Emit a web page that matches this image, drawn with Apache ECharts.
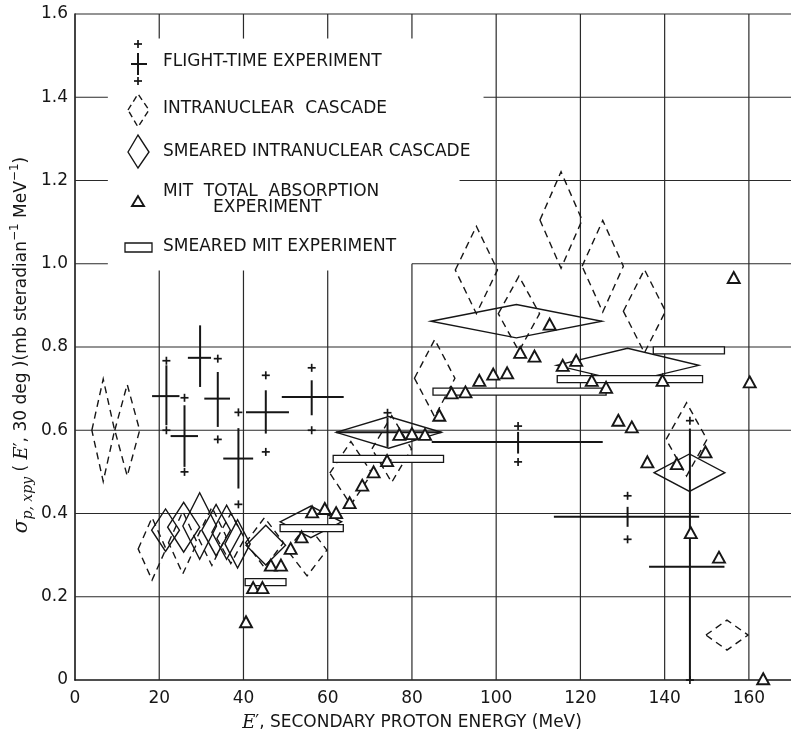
<!DOCTYPE html>
<html>
<head>
<meta charset="utf-8">
<title>Secondary proton spectrum</title>
<style>
  html, body { margin: 0; padding: 0; background: #fff; }
  #chart { width: 791px; height: 733px; }
</style>
<script src="https://cdn.jsdelivr.net/npm/echarts@6/dist/echarts.min.js"></script>
</head>
<body>
<div id="chart"></div>
<script>
// x ticks (MeV) and y ticks
var xTicks = [0, 20, 40, 60, 80, 100, 120, 140, 160];
var yTicks = [0, 0.2, 0.4, 0.6, 0.8, 1.0, 1.2, 1.4, 1.6];

// intranuclear cascade (dashed diamonds): [E, sigma, halfWidth E, halfHeight sigma]
var cascade = [
  [6.7, 0.60, 2.7, 0.123],
  [12.4, 0.60, 2.95, 0.11],
  [18.3, 0.315, 3.3, 0.075],
  [25.6, 0.33, 3.4, 0.075],
  [32.5, 0.345, 3.4, 0.07],
  [37.0, 0.34, 3.3, 0.06],
  [45.0, 0.33, 4.5, 0.06],
  [55.1, 0.312, 4.7, 0.062],
  [65.5, 0.497, 5.0, 0.076],
  [75.2, 0.555, 4.7, 0.08],
  [85.4, 0.725, 4.8, 0.093],
  [95.3, 0.985, 5.0, 0.105],
  [105.4, 0.88, 4.9, 0.09],
  [115.4, 1.105, 5.0, 0.116],
  [125.3, 0.994, 4.9, 0.11],
  [135.2, 0.886, 5.0, 0.10],
  [145.2, 0.578, 4.85, 0.088],
  [154.8, 0.108, 5.0, 0.036]
];

// smeared intranuclear cascade (solid diamonds)
var smeared = [
  [21.5, 0.36, 3.3, 0.051],
  [25.8, 0.367, 3.8, 0.06],
  [29.6, 0.37, 4.0, 0.08],
  [33.5, 0.36, 3.4, 0.062],
  [36.0, 0.355, 3.5, 0.065],
  [38.6, 0.327, 3.0, 0.058],
  [45.3, 0.324, 4.7, 0.048],
  [56.0, 0.38, 7.3, 0.038],
  [74.5, 0.595, 12.5, 0.038],
  [104.8, 0.862, 20.3, 0.04],
  [131.2, 0.756, 16.9, 0.041],
  [145.9, 0.498, 8.4, 0.045]
];

// MIT total absorption experiment (triangles): [E, sigma]
var mit = [
  [40.6, 0.14], [42.3, 0.222], [44.5, 0.222], [46.5, 0.276], [48.9, 0.276],
  [51.2, 0.316], [53.8, 0.344], [56.3, 0.404], [59.3, 0.412], [62.0, 0.402],
  [65.2, 0.426], [68.2, 0.468], [70.9, 0.50], [74.1, 0.527], [77.0, 0.59],
  [80.0, 0.592], [83.1, 0.59], [86.5, 0.636], [89.4, 0.69], [92.7, 0.692],
  [96.0, 0.72], [99.3, 0.735], [102.6, 0.738], [105.7, 0.787], [109.1, 0.778],
  [112.7, 0.855], [115.8, 0.756], [119.0, 0.768], [122.7, 0.72], [126.1, 0.703],
  [129.0, 0.624], [132.2, 0.608], [135.9, 0.524], [139.5, 0.72], [142.9, 0.52],
  [146.2, 0.354], [149.7, 0.548], [152.9, 0.295], [156.4, 0.967], [160.2, 0.716],
  [163.4, 0.003]
];

// smeared MIT experiment (bars): [E from, E to, sigma]
var smearedMit = [
  [40.4, 50.1, 0.235],
  [48.7, 63.7, 0.365],
  [61.3, 87.5, 0.531],
  [85.0, 126.1, 0.693],
  [114.5, 149.0, 0.723],
  [137.3, 154.2, 0.792]
];

// flight-time experiment: [E, sigma, E lo, E hi, sigma lo, sigma hi, outer lo, outer hi]
var flight = [
  [21.7, 0.682, 18.3, 24.8, 0.612, 0.756, 0.600, 0.767],
  [26.0, 0.586, 22.7, 29.2, 0.512, 0.66, 0.50, 0.678],
  [29.7, 0.774, 26.8, 32.3, 0.704, 0.852, null, null],
  [33.9, 0.676, 30.7, 36.8, 0.608, 0.74, 0.578, 0.772],
  [38.8, 0.532, 35.2, 42.3, 0.46, 0.605, 0.422, 0.643],
  [45.3, 0.643, 40.6, 50.8, 0.592, 0.696, 0.548, 0.732],
  [56.2, 0.68, 49.1, 63.8, 0.636, 0.72, 0.60, 0.75],
  [74.2, 0.595, 62.0, 87.0, 0.56, 0.63, 0.528, 0.642],
  [105.2, 0.572, 84.7, 125.3, 0.544, 0.596, 0.524, 0.61],
  [131.2, 0.392, 113.7, 148.2, 0.368, 0.416, 0.338, 0.4425],
  [146.0, 0.272, 136.3, 154.2, 0.0, 0.604, 0.0, 0.623]
];

// graph paper lines, broken around the key: [x1, y1, x2, y2]
var paperLines = [
  [20, 0, 20, 0.984], [40, 0, 40, 0.984], [60, 0, 60, 0.984], [80, 0, 80, 1.0],
  [20, 1.541, 20, 1.6], [40, 1.541, 40, 1.6], [60, 1.541, 60, 1.6], [80, 1.541, 80, 1.6],
  [100, 0, 100, 1.6], [120, 0, 120, 1.6], [140, 0, 140, 1.6], [160, 0, 160, 1.6],
  [0, 0.2, 170, 0.2], [0, 0.4, 170, 0.4], [0, 0.6, 170, 0.6], [0, 0.8, 170, 0.8],
  [80, 1.0, 170, 1.0], [91.3, 1.2, 170, 1.2], [97, 1.4, 170, 1.4],
  [0, 1.0, 7.8, 1.0], [0, 1.2, 7.8, 1.2], [0, 1.4, 7.8, 1.4],
  [0, 1.6, 170, 1.6]
];

var INK = '#161616';
var FONT = 'DejaVu Sans';

function diamond(dashed) {
  return function (params, api) {
    var e = api.value(0), s = api.value(1), de = api.value(2), ds = api.value(3);
    var pts = [[e - de, s], [e, s + ds], [e + de, s], [e, s - ds]].map(function (p) { return api.coord(p); });
    return {
      type: 'polygon',
      shape: { points: pts },
      style: { fill: 'none', stroke: INK, lineWidth: 1.4, lineDash: dashed ? [7, 5] : null }
    };
  };
}

function plusMark(p, r) {
  return [
    { type: 'line', shape: { x1: p[0] - r, y1: p[1], x2: p[0] + r, y2: p[1] }, style: { stroke: INK, lineWidth: 1.7 } },
    { type: 'line', shape: { x1: p[0], y1: p[1] - r, x2: p[0], y2: p[1] + r }, style: { stroke: INK, lineWidth: 1.7 } }
  ];
}

function flightItem(params, api) {
  var e = api.value(0), s = api.value(1);
  var a = api.coord([api.value(2), s]), b = api.coord([api.value(3), s]);
  var c = api.coord([e, api.value(4)]), d = api.coord([e, api.value(5)]);
  var kids = [
    { type: 'line', shape: { x1: a[0], y1: a[1], x2: b[0], y2: b[1] }, style: { stroke: INK, lineWidth: 2 } },
    { type: 'line', shape: { x1: c[0], y1: c[1], x2: d[0], y2: d[1] }, style: { stroke: INK, lineWidth: 2 } }
  ];
  [6, 7].forEach(function (k) {
    var v = api.value(k);
    if (v != null && !isNaN(v)) kids = kids.concat(plusMark(api.coord([e, v]), 4));
  });
  return { type: 'group', children: kids };
}

function barItem(params, api) {
  var a = api.coord([api.value(0), api.value(2)]);
  var b = api.coord([api.value(1), api.value(2)]);
  return {
    type: 'rect',
    shape: { x: a[0], y: a[1] - 3.5, width: b[0] - a[0], height: 7 },
    style: { fill: '#fff', stroke: INK, lineWidth: 1.3 }
  };
}

function paperItem(params, api) {
  var a = api.coord([api.value(0), api.value(1)]);
  var b = api.coord([api.value(2), api.value(3)]);
  return { type: 'line', shape: { x1: a[0], y1: a[1], x2: b[0], y2: b[1] }, style: { stroke: '#2a2a2a', lineWidth: 1.2 } };
}

var chart = echarts.init(document.getElementById('chart'));

function label(x, y, s) {
  return { type: 'text', left: x, top: y - 10, style: { text: s, fill: INK, font: '17px "' + FONT + '"' }, z: 20 };
}

chart.setOption({
  animation: false,
  backgroundColor: '#fff',
  grid: { left: 75, right: -3, top: 14, bottom: 53 },
  xAxis: {
    type: 'value', min: 0, max: 170, interval: 20,
    axisLine: { show: true, lineStyle: { color: INK, width: 1.6 } },
    axisTick: { show: false },
    splitLine: { show: false },
    axisLabel: { color: INK, fontFamily: FONT, fontSize: 17, margin: 10, showMaxLabel: false,
      formatter: function (v) { return xTicks.indexOf(v) >= 0 ? String(v) : ''; } }
  },
  yAxis: {
    type: 'value', min: 0, max: 1.6, interval: 0.2,
    axisLine: { show: true, lineStyle: { color: INK, width: 1.6 } },
    axisTick: { show: false },
    splitLine: { show: false },
    axisLabel: { color: INK, fontFamily: FONT, fontSize: 17, margin: 7,
      formatter: function (v) {
        var t = yTicks.filter(function (y) { return Math.abs(y - v) < 1e-6; })[0];
        if (t === undefined) return '';
        return t === 0 ? '0' : t.toFixed(1);
      } }
  },
  graphic: [
    // key: flight-time cross
    { type: 'group', z: 20, children: [
      { type: 'line', shape: { x1: 131, y1: 64, x2: 147, y2: 64 }, style: { stroke: INK, lineWidth: 2 } },
      { type: 'line', shape: { x1: 138, y1: 53, x2: 138, y2: 75 }, style: { stroke: INK, lineWidth: 2 } }
    ].concat(plusMark([138, 44], 4), plusMark([138, 81], 4)) },
    { type: 'polygon', z: 20, shape: { points: [[128, 110], [138, 94], [149, 110], [138, 127]] },
      style: { fill: 'none', stroke: INK, lineWidth: 1.4, lineDash: [6, 4] } },
    { type: 'polygon', z: 20, shape: { points: [[128, 152], [138, 135], [149, 152], [138, 168]] },
      style: { fill: 'none', stroke: INK, lineWidth: 1.4 } },
    { type: 'polygon', z: 20, shape: { points: [[138, 196], [132, 206], [144, 206]] },
      style: { fill: '#fff', stroke: INK, lineWidth: 1.9 } },
    { type: 'rect', z: 20, shape: { x: 125, y: 243, width: 27, height: 9 },
      style: { fill: '#fff', stroke: INK, lineWidth: 1.3 } },
    label(163, 63, 'FLIGHT-TIME EXPERIMENT'),
    label(163, 110, 'INTRANUCLEAR  CASCADE'),
    label(163, 153, 'SMEARED INTRANUCLEAR CASCADE'),
    label(163, 193, 'MIT  TOTAL  ABSORPTION'),
    label(213, 209, 'EXPERIMENT'),
    label(163, 248, 'SMEARED MIT EXPERIMENT'),
    // axis titles
    { type: 'text', z: 20, x: 412, y: 723,
      style: {
        text: '{e|E}{n|′, SECONDARY PROTON ENERGY (MeV)}',
        align: 'center', verticalAlign: 'middle',
        rich: {
          e: { fontFamily: 'DejaVu Serif', fontStyle: 'italic', fontSize: 18, fill: INK },
          n: { fontFamily: FONT, fontSize: 17, fill: INK }
        }
      } },
    { type: 'text', z: 20, x: 22, y: 345, rotation: Math.PI / 2,
      style: {
        text: '{s|σ}{sub|p, xpy}{n| ( }{e|E}{n|′, 30 deg )(mb steradian}{sup|−1}{n| MeV}{sup|−1}{n|)}',
        align: 'center', verticalAlign: 'middle',
        rich: {
          s: { fontFamily: 'DejaVu Serif', fontStyle: 'italic', fontSize: 20, lineHeight: 26, fill: INK },
          sub: { fontFamily: 'DejaVu Serif', fontStyle: 'italic', fontSize: 14, lineHeight: 13, verticalAlign: 'bottom', fill: INK },
          e: { fontFamily: 'DejaVu Serif', fontStyle: 'italic', fontSize: 18, lineHeight: 26, fill: INK },
          n: { fontFamily: FONT, fontSize: 17, lineHeight: 26, fill: INK },
          sup: { fontFamily: FONT, fontSize: 12, lineHeight: 11, verticalAlign: 'top', fill: INK }
        }
      } }
  ],
  series: [
    { type: 'custom', name: 'paper', data: paperLines, renderItem: paperItem, encode: { x: [0, 2], y: [1, 3] }, clip: false, silent: true, z: 1 },
    { type: 'custom', name: 'INTRANUCLEAR CASCADE', data: cascade, renderItem: diamond(true), encode: { x: 0, y: 1 }, clip: false, z: 2 },
    { type: 'custom', name: 'SMEARED INTRANUCLEAR CASCADE', data: smeared, renderItem: diamond(false), encode: { x: 0, y: 1 }, clip: false, z: 3 },
    { type: 'custom', name: 'SMEARED MIT EXPERIMENT', data: smearedMit, renderItem: barItem, encode: { x: [0, 1], y: 2 }, clip: false, z: 4 },
    { type: 'custom', name: 'FLIGHT-TIME EXPERIMENT', data: flight, renderItem: flightItem, encode: { x: 0, y: 1 }, clip: false, z: 5 },
    { type: 'scatter', name: 'MIT TOTAL ABSORPTION EXPERIMENT', data: mit, symbol: 'triangle', symbolSize: [12, 11],
      itemStyle: { color: '#fff', borderColor: INK, borderWidth: 1.9, opacity: 1 }, z: 6 }
  ]
});
</script>
</body>
</html>
